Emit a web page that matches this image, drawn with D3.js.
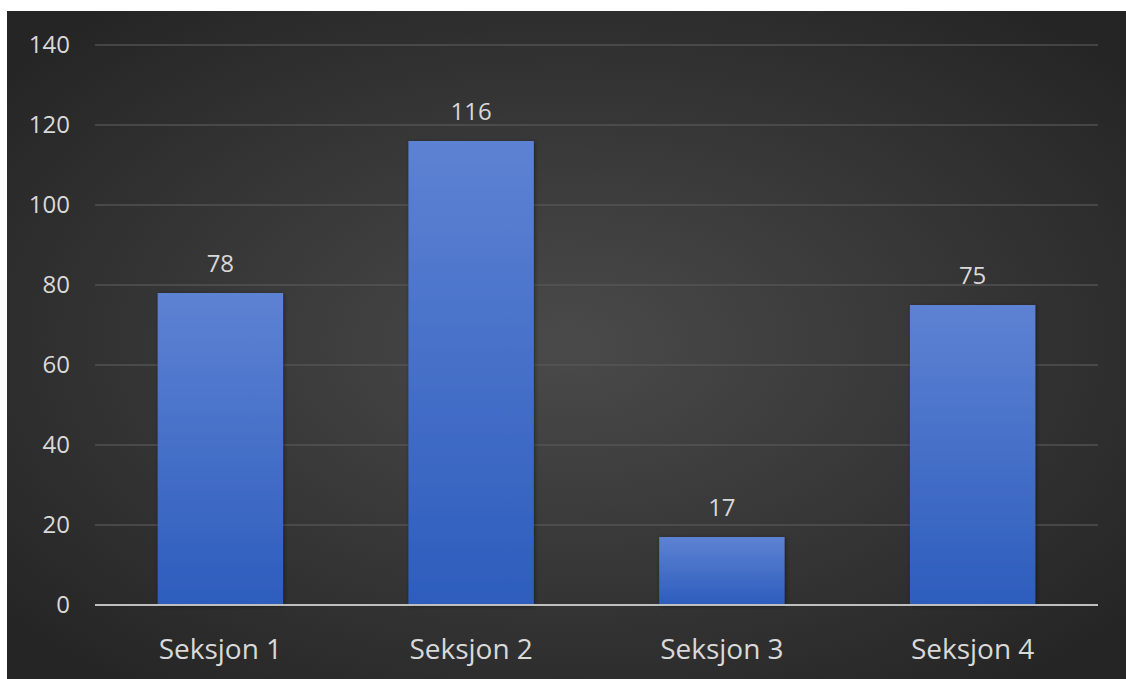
<!DOCTYPE html>
<html>
<head>
<meta charset="utf-8">
<script src="https://cdn.jsdelivr.net/npm/d3@7"></script>
<style>
  html, body { margin: 0; padding: 0; background: #ffffff; }
  svg { display: block; }
</style>
</head>
<body>
<svg id="chart" width="1126" height="679"></svg>
<script>
// Section totals
const categories = ["Seksjon 1", "Seksjon 2", "Seksjon 3", "Seksjon 4"];
const values = [78, 116, 17, 75];
const yTicks = [0, 20, 40, 60, 80, 100, 120, 140];

const W = 1126, H = 679;
const svg = d3.select("#chart");
const defs = svg.append("defs");

// Dark backdrop with a soft lighter centre
const bg = defs.append("radialGradient").attr("id", "bgGrad")
  .attr("cx", "50%").attr("cy", "50%").attr("r", "65%");
bg.append("stop").attr("offset", "0%").attr("stop-color", "#4a4a4a");
bg.append("stop").attr("offset", "100%").attr("stop-color", "#252525");

const barGrad = defs.append("linearGradient").attr("id", "barGrad")
  .attr("x1", 0).attr("y1", 0).attr("x2", 0).attr("y2", 1);
barGrad.append("stop").attr("offset", "0%").attr("stop-color", "#5d82d3");
barGrad.append("stop").attr("offset", "100%").attr("stop-color", "#2d5dbd");

const shadow = defs.append("filter").attr("id", "barShadow")
  .attr("x", "-10%").attr("y", "-10%").attr("width", "130%").attr("height", "130%");
shadow.append("feDropShadow").attr("dx", 1).attr("dy", 1).attr("stdDeviation", 2)
  .attr("flood-color", "#000").attr("flood-opacity", 0.45);

svg.append("rect").attr("x", 7).attr("y", 11).attr("width", W - 7).attr("height", H - 11)
  .attr("fill", "url(#bgGrad)");

const plot = { left: 95, right: 1098, top: 45, bottom: 605 };

const x = d3.scaleBand().domain(categories).range([plot.left, plot.right])
  .paddingInner(0.5).paddingOuter(0.25);
const y = d3.scaleLinear().domain([0, 140]).range([plot.bottom, plot.top]);

const font = "'Open Sans', 'DejaVu Sans', sans-serif";

// Horizontal gridlines
svg.append("g").selectAll("line").data(yTicks.filter(d => d > 0)).join("line")
  .attr("x1", plot.left).attr("x2", plot.right)
  .attr("y1", d => y(d)).attr("y2", d => y(d))
  .attr("stroke", "#5a5a5a").attr("stroke-width", 1.5).attr("opacity", 0.8);

// Y axis labels
const yAxis = svg.append("g").attr("transform", `translate(${plot.left - 25},0)`)
  .call(d3.axisLeft(y).tickValues(yTicks).tickSize(0).tickPadding(0));
yAxis.select(".domain").remove();
yAxis.selectAll("text").attr("fill", "#d9d9d9").style("font-family", font)
  .style("font-size", "24px");

// Bars
svg.append("g").selectAll("rect").data(values).join("rect")
  .attr("x", (d, i) => x(categories[i]))
  .attr("y", d => y(d))
  .attr("width", x.bandwidth())
  .attr("height", d => y(0) - y(d))
  .attr("fill", "url(#barGrad)")
  .attr("filter", "url(#barShadow)");

// Value labels
svg.append("g").selectAll("text").data(values).join("text")
  .attr("x", (d, i) => x(categories[i]) + x.bandwidth() / 2)
  .attr("y", d => y(d) - 21)
  .attr("text-anchor", "middle")
  .attr("fill", "#d9d9d9").style("font-family", font).style("font-size", "24px")
  .text(d => d);

// Baseline
svg.append("line").attr("x1", plot.left).attr("x2", plot.right)
  .attr("y1", y(0)).attr("y2", y(0))
  .attr("stroke", "#bfbfbf").attr("stroke-width", 2);

// Category labels
const xAxis = svg.append("g").attr("transform", `translate(0,${plot.bottom})`)
  .call(d3.axisBottom(x).tickSize(0).tickPadding(34));
xAxis.select(".domain").remove();
xAxis.selectAll("text").attr("fill", "#d9d9d9").style("font-family", font)
  .style("font-size", "28px");
</script>
</body>
</html>
